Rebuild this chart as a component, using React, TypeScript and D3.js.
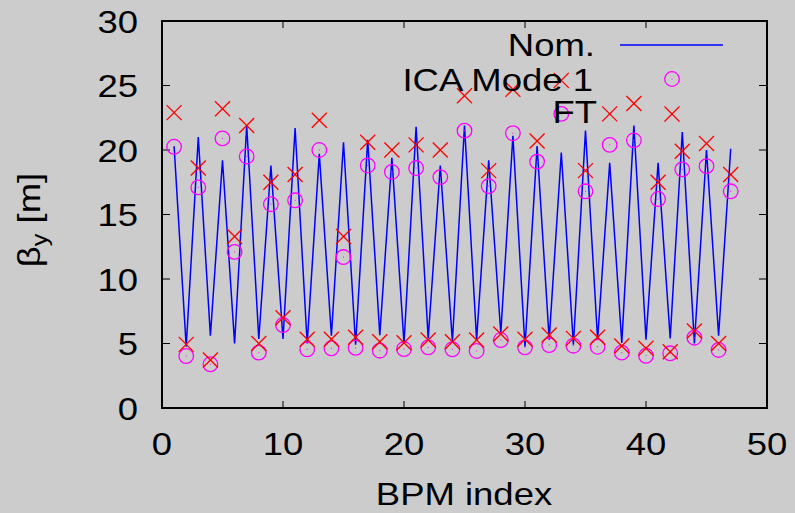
import React from "react";
import * as d3 from "d3";

const bpmIndex = [1,2,3,4,5,6,7,8,9,10,11,12,13,14,15,16,17,18,19,20,21,22,23,24,25,26,27,28,29,30,31,32,33,34,35,36,37,38,39,40,41,42,43,44,45,46,47];
const nomBeta = [20.3,4.75,21.0,5.6,19.2,5.0,21.9,5.35,18.8,5.35,21.7,5.0,19.7,5.6,20.6,4.9,20.8,5.65,19.4,5.0,21.8,5.4,18.8,5.15,21.9,5.3,19.2,5.8,21.1,4.75,20.3,5.3,19.8,4.9,21.5,5.3,19.0,5.05,21.9,5.3,19.0,5.4,21.4,5.0,20.0,5.6,20.1];
const icaBeta = [20.25,4.03,17.1,3.39,20.9,12.1,19.5,4.29,15.8,6.43,16.1,4.55,20.0,4.63,11.7,4.67,18.8,4.44,18.3,4.57,18.6,4.7,17.9,4.55,21.5,4.42,17.2,5.27,21.3,4.7,19.1,4.88,22.8,4.83,16.8,4.75,20.4,4.29,20.75,4.05,16.2,4.24,18.5,5.45,18.75,4.5,16.8];
const ftBeta = [22.9,4.93,18.6,3.72,23.2,13.3,21.9,5.0,17.5,7.0,18.1,5.33,22.3,5.33,13.3,5.48,20.6,5.14,20.0,5.06,20.4,5.27,20.0,5.14,24.2,5.27,18.4,5.74,24.7,5.33,20.7,5.66,25.4,5.4,18.4,5.48,22.8,4.8,23.6,4.63,17.5,4.36,19.9,5.97,20.5,5.0,18.1];
const xTicks = [0,10,20,30,40,50];
const yTicks = [0,5,10,15,20,25,30];
const legendLabels = ["Nom.", "ICA Mode 1", "FT"];

const W = 795, H = 513;
const L = 162, R = 767, T = 21, B = 408;
const FONT = "'Liberation Sans', Arial, Helvetica, sans-serif";
const FS = 32;
const SX = 1.14;

function Txt({ x, y, anchor = "start", rot = 0, children }: { x: number; y: number; anchor?: string; rot?: number; children: React.ReactNode }) {
  return (
    <text
      transform={`translate(${x},${y}) rotate(${rot}) scale(${SX},1)`}
      fontSize={FS}
      textAnchor={anchor as any}
      fill="#000"
    >
      {children}
    </text>
  );
}

function Cross({ cx, cy, s = 7.5 }: { cx: number; cy: number; s?: number }) {
  return (
    <g stroke="#ff0000" strokeWidth={1.3}>
      <line x1={cx - s} y1={cy - s} x2={cx + s} y2={cy + s} />
      <line x1={cx - s} y1={cy + s} x2={cx + s} y2={cy - s} />
    </g>
  );
}

function Ring({ cx, cy, r = 7.3 }: { cx: number; cy: number; r?: number }) {
  return (
    <g>
      <circle cx={cx} cy={cy} r={r} fill="none" stroke="#ff00ff" strokeWidth={1.3} />
      <rect x={cx - 0.5} y={cy - 0.5} width={1} height={1} fill="#ff00ff" />
    </g>
  );
}

export default function App() {
  const x = d3.scaleLinear().domain([0, 50]).range([L, R]);
  const y = d3.scaleLinear().domain([0, 30]).range([B, T]);
  const line = d3.line<number>().x((_, i) => x(bpmIndex[i])).y((d) => y(d));

  return (
    <svg width={W} height={H} style={{ position: "absolute", left: 0, top: 0 }} fontFamily={FONT}>
      <rect x={0} y={0} width={W} height={H} fill="#cccccc" />
      {xTicks.map((t) => (
        <g key={"xt" + t} stroke="#000" strokeWidth={1}>
          <line x1={x(t)} x2={x(t)} y1={B} y2={B - 7} />
          <line x1={x(t)} x2={x(t)} y1={T} y2={T + 7} />
        </g>
      ))}
      {yTicks.map((t) => (
        <g key={"yt" + t} stroke="#000" strokeWidth={1}>
          <line x1={L} x2={L + 8} y1={y(t)} y2={y(t)} />
          <line x1={R} x2={R - 8} y1={y(t)} y2={y(t)} />
        </g>
      ))}
      <path d={line(nomBeta) || ""} fill="none" stroke="#0000ff" strokeWidth={1.5} strokeLinejoin="miter" />
      {icaBeta.map((v, i) => (
        <Ring key={"c" + i} cx={x(bpmIndex[i])} cy={y(v)} />
      ))}
      {ftBeta.map((v, i) => (
        <Cross key={"x" + i} cx={x(bpmIndex[i])} cy={y(v)} />
      ))}
      <rect x={L} y={T} width={R - L} height={B - T} fill="none" stroke="#000" strokeWidth={2} />
      {xTicks.map((t) => (
        <Txt key={"xl" + t} x={x(t)} y={455} anchor="middle">{t}</Txt>
      ))}
      {yTicks.map((t) => (
        <Txt key={"yl" + t} x={138} y={y(t) + 11.5} anchor="end">{t}</Txt>
      ))}
      <Txt x={464} y={505} anchor="middle">BPM index</Txt>
      <Txt x={40} y={220} anchor="middle" rot={-90}>
        β<tspan fontSize={22} dy={7}>y</tspan><tspan dy={-7}> [m]</tspan>
      </Txt>
      <Txt x={595} y={56} anchor="end">{legendLabels[0]}</Txt>
      <line x1={620} x2={723} y1={45} y2={45} stroke="#0000ff" strokeWidth={1.5} />
      <Txt x={593} y={91} anchor="end">{legendLabels[1]}</Txt>
      <Ring cx={672} cy={79} />
      <Txt x={597} y={123} anchor="end">{legendLabels[2]}</Txt>
      <Cross cx={672} cy={114} />
    </svg>
  );
}
